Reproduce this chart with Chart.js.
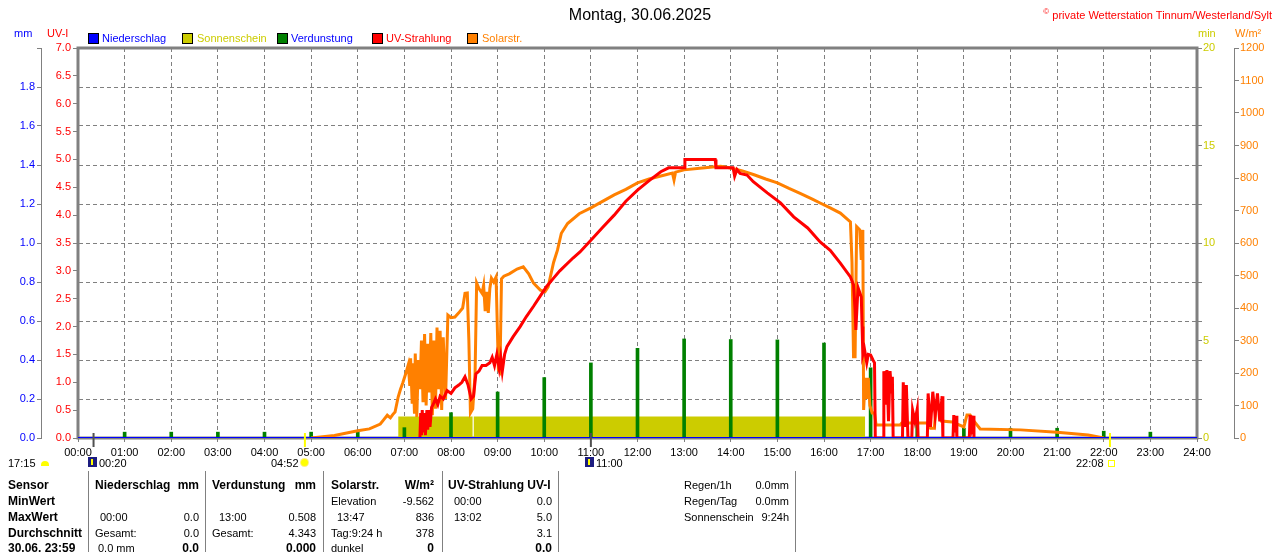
<!DOCTYPE html>
<html lang="de">
<head>
<meta charset="utf-8">
<title>Montag, 30.06.2025</title>
<script src="https://cdn.jsdelivr.net/npm/chart.js@4.4.1/dist/chart.umd.min.js"></script>
<style>
  html, body { margin: 0; padding: 0; background: #fff; }
  #wrap { position: relative; width: 1280px; height: 552px; overflow: hidden;
          font-family: "Liberation Sans", Arial, sans-serif; font-size: 11px; color: #000; }
  #wrap canvas { position: absolute; left: 0; top: 0; }
  .t { position: absolute; white-space: nowrap; line-height: 14px; }
  .b { font-weight: bold; font-size: 12px; }
  .box { position: absolute; top: 33px; width: 9px; height: 9px; border: 1px solid #000; }
  .sep { position: absolute; top: 471px; width: 1px; height: 81px; background: #808080; }
  .moon { position: absolute; width: 9px; height: 10px; background: #1c1c80; }
  .moon i { position: absolute; left: 3px; top: 2px; width: 2px; height: 6px; background: #ffff00; }
</style>
</head>
<body>
<div id="wrap">
  <canvas id="wetter" width="1280" height="552"></canvas>

  <!-- header -->
  <div class="t" style="left:0;width:1280px;top:6px;text-align:center;font-size:16px;line-height:18px;">Montag, 30.06.2025</div>
  <div class="t" style="right:8px;top:5px;color:#ff0000;"><sup style="font-size:8px;">©</sup> private Wetterstation Tinnum/Westerland/Sylt</div>

  <!-- axis units -->
  <div class="t" style="left:14px;top:26px;color:#0000ff;">mm</div>
  <div class="t" style="left:47px;top:26px;color:#ff0000;">UV-I</div>
  <div class="t" style="left:1198px;top:26px;color:#cccc00;">min</div>
  <div class="t" style="left:1235px;top:26px;color:#ff8000;">W/m²</div>

  <!-- legend -->
  <div class="box" style="left:88px;background:#0000ff;"></div>
  <div class="t" style="left:102px;top:31px;color:#0000ff;">Niederschlag</div>
  <div class="box" style="left:182px;background:#cccc00;"></div>
  <div class="t" style="left:197px;top:31px;color:#cccc00;">Sonnenschein</div>
  <div class="box" style="left:277px;background:#008000;"></div>
  <div class="t" style="left:291px;top:31px;color:#0000ff;">Verdunstung</div>
  <div class="box" style="left:372px;background:#ff0000;"></div>
  <div class="t" style="left:386px;top:31px;color:#ff0000;">UV-Strahlung</div>
  <div class="box" style="left:467px;background:#ff8000;"></div>
  <div class="t" style="left:482px;top:31px;color:#ff8000;">Solarstr.</div>

  <!-- sun / moon row -->
  <div class="t" style="left:8px;top:456px;">17:15</div>
  <div style="position:absolute;left:41px;top:461px;width:8px;height:5px;border-radius:4px 4px 0 0;background:#ffff00;"></div>
  <div class="moon" style="left:88px;top:457px;"><i></i></div>
  <div class="t" style="left:99px;top:456px;">00:20</div>
  <div class="t" style="left:271px;top:456px;">04:52</div>
  <div style="position:absolute;left:301px;top:459px;width:7px;height:7px;border-radius:50%;background:#ffff00;box-shadow:0 0 0 1px #ffee88;"></div>
  <div class="moon" style="left:585px;top:457px;"><i></i></div>
  <div class="t" style="left:596px;top:456px;">11:00</div>
  <div class="t" style="left:1076px;top:456px;">22:08</div>
  <div style="position:absolute;left:1108px;top:460px;width:5px;height:5px;border:1px solid #ffff00;"></div>

  <!-- table -->
  <div class="sep" style="left:88px;"></div>
  <div class="sep" style="left:205px;"></div>
  <div class="sep" style="left:323px;"></div>
  <div class="sep" style="left:442px;"></div>
  <div class="sep" style="left:558px;"></div>
  <div class="sep" style="left:795px;"></div>

  <div class="t b" style="left:8px;top:478px;">Sensor</div>
  <div class="t b" style="left:8px;top:494px;">MinWert</div>
  <div class="t b" style="left:8px;top:510px;">MaxWert</div>
  <div class="t b" style="left:8px;top:526px;">Durchschnitt</div>
  <div class="t b" style="left:8px;top:541px;">30.06. 23:59</div>

  <div class="t b" style="left:95px;top:478px;">Niederschlag</div>
  <div class="t b" style="right:1081px;top:478px;">mm</div>
  <div class="t" style="left:100px;top:510px;">00:00</div>
  <div class="t" style="right:1081px;top:510px;">0.0</div>
  <div class="t" style="left:95px;top:526px;">Gesamt:</div>
  <div class="t" style="right:1081px;top:526px;">0.0</div>
  <div class="t" style="left:98px;top:541px;">0.0 mm</div>
  <div class="t b" style="right:1081px;top:541px;">0.0</div>

  <div class="t b" style="left:212px;top:478px;">Verdunstung</div>
  <div class="t b" style="right:964px;top:478px;">mm</div>
  <div class="t" style="left:219px;top:510px;">13:00</div>
  <div class="t" style="right:964px;top:510px;">0.508</div>
  <div class="t" style="left:212px;top:526px;">Gesamt:</div>
  <div class="t" style="right:964px;top:526px;">4.343</div>
  <div class="t b" style="right:964px;top:541px;">0.000</div>

  <div class="t b" style="left:331px;top:478px;">Solarstr.</div>
  <div class="t b" style="right:846px;top:478px;">W/m²</div>
  <div class="t" style="left:331px;top:494px;">Elevation</div>
  <div class="t" style="right:846px;top:494px;">-9.562</div>
  <div class="t" style="left:337px;top:510px;">13:47</div>
  <div class="t" style="right:846px;top:510px;">836</div>
  <div class="t" style="left:331px;top:526px;">Tag:9:24 h</div>
  <div class="t" style="right:846px;top:526px;">378</div>
  <div class="t" style="left:331px;top:541px;">dunkel</div>
  <div class="t b" style="right:846px;top:541px;">0</div>

  <div class="t b" style="left:448px;top:478px;">UV-Strahlung UV-I</div>
  <div class="t" style="left:454px;top:494px;">00:00</div>
  <div class="t" style="right:728px;top:494px;">0.0</div>
  <div class="t" style="left:454px;top:510px;">13:02</div>
  <div class="t" style="right:728px;top:510px;">5.0</div>
  <div class="t" style="right:728px;top:526px;">3.1</div>
  <div class="t b" style="right:728px;top:541px;">0.0</div>

  <div class="t" style="left:684px;top:478px;">Regen/1h</div>
  <div class="t" style="right:491px;top:478px;">0.0mm</div>
  <div class="t" style="left:684px;top:494px;">Regen/Tag</div>
  <div class="t" style="right:491px;top:494px;">0.0mm</div>
  <div class="t" style="left:684px;top:510px;">Sonnenschein</div>
  <div class="t" style="right:491px;top:510px;">9:24h</div>
</div>

<script>
// Wetterstation Tagesgrafik 30.06.2025
const fontFamily = '"Liberation Sans", Arial, sans-serif';
const gridColor = '#808080';

// Niederschlag (mm)
const rainTimes = ['00:00', '24:00'];
const rainValues = [0, 0];

// Verdunstung (mm), stuendlich
const evapTimes = ['01:00', '02:00', '03:00', '04:00', '05:00', '06:00', '07:00', '08:00',
    '09:00', '10:00', '11:00', '12:00', '13:00', '14:00', '15:00', '16:00',
    '17:00', '18:00', '19:00', '20:00', '21:00', '22:00', '23:00'];
const evapValues = [0.03, 0.03, 0.03, 0.03, 0.03, 0.03, 0.053, 0.13,
    0.236, 0.31, 0.385, 0.46, 0.508, 0.505, 0.503, 0.487,
    0.36, 0.077, 0.05, 0.05, 0.05, 0.035, 0.03];

// Sonnenschein (min)
const sunStart = ['06:52', '08:29'];
const sunEnd = ['08:28', '16:53'];
const sunMinutes = [1.1, 1.1];

// UV-Strahlung (UV-I)
const uvTimes = ['07:20', '07:21', '07:22', '07:23', '07:24', '07:26', '07:27', '07:29', '07:30', '07:32',
    '07:33', '07:35', '07:37', '07:40', '07:43', '07:46', '07:50', '07:55', '08:00', '08:05',
    '08:10', '08:14', '08:18', '08:22', '08:26', '08:29', '08:32', '08:36', '08:40', '08:45',
    '08:50', '08:53', '08:56', '08:59', '09:02', '09:04', '09:06', '09:09', '09:12', '09:20',
    '09:29', '09:37', '09:46', '09:55', '10:03', '10:12', '10:20', '10:37', '10:46', '11:00',
    '11:15', '11:30', '11:45', '12:00', '12:15', '12:30', '12:40', '13:00', '13:01', '13:40',
    '13:41', '14:03', '14:05', '14:08', '14:12', '14:21', '14:29', '14:47', '15:04', '15:21',
    '15:39', '15:55', '16:08', '16:21', '16:34', '16:38', '16:40', '16:41', '16:43', '16:44',
    '16:48', '16:49', '16:50', '16:52', '16:55', '16:57', '17:00', '17:03', '17:05', '17:06',
    '17:16', '17:17', '17:19', '17:21', '17:23', '17:25', '17:27', '17:28', '17:29', '17:41',
    '17:42', '17:44', '17:46', '17:48', '17:53', '17:54', '17:57', '18:00', '18:01', '18:13',
    '18:14', '18:17', '18:20', '18:23', '18:26', '18:29', '18:32', '18:33', '18:46', '18:47',
    '18:49', '18:50', '18:51', '19:07', '19:08', '19:10', '19:12', '19:13'];
const uvValues = [0, 0.45, 0.05, 0.5, 0.1, 0.45, 0.05, 0.5, 0.15, 0.5,
    0.2, 0.55, 0.6, 0.7, 0.6, 0.75, 0.7, 0.85, 0.8, 0.9,
    0.95, 1.0, 1.1, 0.95, 0.7, 0.75, 1.15, 1.2, 1.3, 1.3,
    1.35, 1.45, 1.3, 1.5, 1.25, 1.45, 1.2, 1.5, 1.64, 1.82,
    2.0, 2.18, 2.36, 2.55, 2.72, 2.87, 3.0, 3.23, 3.34, 3.55,
    3.78, 4.0, 4.25, 4.45, 4.62, 4.78, 4.85, 4.85, 5.0, 5.0,
    4.85, 4.85, 4.7, 4.82, 4.75, 4.72, 4.6, 4.4, 4.22, 3.97,
    3.77, 3.52, 3.37, 3.14, 2.89, 2.75, 2.3, 1.94, 2.5, 2.69,
    2.53, 2.0, 1.5, 1.6, 1.35, 1.5, 1.49, 1.4, 1.35, 0,
    0, 1.2, 0.6, 1.22, 0.3, 1.2, 0.8, 1.1, 0, 0,
    1.0, 0.2, 0.95, 0, 0, 0.5, 0.3, 0.52, 0, 0,
    0.8, 0.2, 0.83, 0.4, 0.8, 0.3, 0.75, 0, 0, 0.41,
    0.1, 0.4, 0, 0, 0.41, 0.2, 0.4, 0];

// Solarstrahlung (W/m²)
const solarTimes = ['05:00', '05:30', '06:00', '06:15', '06:29', '06:33', '06:38', '06:42', '06:45', '06:48',
    '06:52', '06:55', '06:58', '07:02', '07:05', '07:07', '07:08', '07:10', '07:11', '07:13',
    '07:14', '07:16', '07:18', '07:20', '07:22', '07:24', '07:26', '07:28', '07:30', '07:32',
    '07:34', '07:36', '07:38', '07:40', '07:42', '07:44', '07:46', '07:48', '07:50', '07:53',
    '07:56', '08:00', '08:05', '08:10', '08:15', '08:18', '08:21', '08:23', '08:25', '08:28',
    '08:31', '08:33', '08:36', '08:40', '08:42', '08:44', '08:46', '08:48', '08:50', '08:52',
    '08:55', '08:58', '09:01', '09:03', '09:05', '09:08', '09:15', '09:25', '09:33', '09:40',
    '09:46', '09:55', '10:01', '10:05', '10:12', '10:17', '10:22', '10:30', '10:45', '11:00',
    '11:15', '11:30', '11:45', '12:00', '12:15', '12:30', '12:45', '12:47', '12:49', '13:00',
    '13:20', '13:47', '14:00', '14:15', '14:30', '14:45', '15:00', '15:15', '15:30', '15:45',
    '15:55', '16:08', '16:21', '16:34', '16:36', '16:38', '16:40', '16:42', '16:46', '16:48',
    '16:49', '16:50', '16:51', '16:53', '16:55', '16:57', '16:59', '17:02', '17:05', '17:07',
    '17:38', '17:40', '18:13', '18:17', '18:22', '18:24', '18:28', '18:31', '18:45', '19:00',
    '19:04', '19:08', '19:12', '19:21', '20:13', '21:00', '21:40', '22:00'];
const solarValues = [0, 8, 22, 28, 43, 55, 70, 62, 72, 80,
    126, 150, 170, 200, 225, 160, 245, 110, 230, 75,
    260, 65, 240, 150, 300, 110, 320, 100, 290, 140,
    323, 70, 300, 90, 340, 150, 330, 86, 310, 120,
    378, 370, 372, 385, 400, 445, 446, 300, 77, 90,
    200, 477, 460, 445, 470, 390, 450, 385, 460, 492,
    480, 495, 210, 203, 490, 498, 505, 520, 527, 505,
    477, 455, 450, 465, 540, 578, 630, 660, 690, 708,
    728, 748, 765, 785, 797, 806, 815, 794, 818, 825,
    830, 836, 831, 822, 810, 797, 785, 768, 752, 735,
    723, 708, 692, 665, 542, 250, 250, 650, 640, 548,
    640, 620, 86, 185, 120, 185, 100, 77, 77, 40,
    40, 46, 46, 30, 30, 92, 92, 52, 49, 34,
    71, 71, 55, 28, 25, 18, 9, 0];

// Sonnenaufgang/-untergang, Mond
const eventTimes = ['00:20', '04:52', '11:00', '22:08'];
const eventColors = ['#505050', '#ffff00', '#505050', '#ffff00'];

// Achsen
const minTicks = [0, 2, 4, 5, 6, 8, 10, 12, 14, 15, 16, 18, 20];
const minLabels = [0, 5, 10, 15, 20];

const toHours = (t) => {
    const [h, m] = t.split(':').map(Number);
    return h + m / 60;
};
const points = (times, values) => times.map((t, i) => ({ x: toHours(t), y: values[i] }));

const sunPoints = [];
sunStart.forEach((s, i) => {
    sunPoints.push({ x: toHours(s), y: sunMinutes[i] });
    sunPoints.push({ x: toHours(sunEnd[i]), y: sunMinutes[i] });
    sunPoints.push({ x: toHours(sunEnd[i]), y: null });
});

const tickFont = { family: fontFamily, size: 11 };

const frame = {
    id: 'frame',
    beforeDatasetsDraw(chart) {
        const { ctx, chartArea: { left, top, right, bottom } } = chart;
        ctx.save();
        ctx.strokeStyle = gridColor;
        ctx.lineWidth = 3;
        ctx.strokeRect(left, top, right - left, bottom - top);
        ctx.restore();
    },
    afterDraw(chart) {
        const { ctx, chartArea: { bottom }, scales: { x } } = chart;
        ctx.save();
        ctx.lineWidth = 2;
        eventTimes.forEach((t, i) => {
            const px = x.getPixelForValue(toHours(t));
            ctx.strokeStyle = eventColors[i];
            ctx.beginPath();
            ctx.moveTo(px, bottom - 5);
            ctx.lineTo(px, bottom + 9);
            ctx.stroke();
        });
        ctx.restore();
    }
};

new Chart('wetter', {
    type: 'line',
    data: {
        datasets: [{
            label: 'Niederschlag',
            data: points(rainTimes, rainValues),
            yAxisID: 'yMm',
            borderColor: '#0000ff',
            borderWidth: 2,
            pointRadius: 0,
            order: 0,
        }, {
            label: 'UV-Strahlung',
            data: points(uvTimes, uvValues),
            yAxisID: 'yUv',
            borderColor: '#ff0000',
            borderWidth: 3,
            pointRadius: 0,
            order: 1,
        }, {
            label: 'Solarstr.',
            data: points(solarTimes, solarValues),
            yAxisID: 'ySolar',
            borderColor: '#ff8000',
            borderWidth: 3,
            pointRadius: 0,
            order: 2,
        }, {
            type: 'bar',
            label: 'Verdunstung',
            data: points(evapTimes, evapValues),
            yAxisID: 'yMm',
            backgroundColor: '#008000',
            barThickness: 3,
            order: 3,
        }, {
            label: 'Sonnenschein',
            data: sunPoints,
            yAxisID: 'yMin',
            borderWidth: 0,
            borderColor: '#cccc00',
            backgroundColor: '#cccc00',
            fill: 'origin',
            spanGaps: false,
            pointRadius: 0,
            order: 4,
        }],
    },
    options: {
        responsive: false,
        animation: false,
        events: [],
        layout: { padding: { left: 0, right: 8, top: 48, bottom: 90 } },
        plugins: {
            legend: { display: false },
            tooltip: { enabled: false },
            title: { display: false },
        },
        scales: {
            x: {
                type: 'linear',
                min: 0,
                max: 24,
                offset: false,
                ticks: {
                    stepSize: 1,
                    autoSkip: false,
                    maxRotation: 0,
                    color: '#000',
                    font: tickFont,
                    padding: 4,
                    callback: (v) => String(v).padStart(2, '0') + ':00',
                },
                grid: { color: gridColor, drawTicks: true, tickLength: 4, offset: false },
                border: { display: false, dash: [4, 3] },
                afterFit: (s) => { s.height = 24; },
            },
            yUv: {
                position: 'left',
                weight: 0,
                min: 0,
                max: 7,
                ticks: {
                    stepSize: 0.5,
                    color: '#ff0000',
                    font: tickFont,
                    padding: 2,
                    callback: (v) => v.toFixed(1),
                },
                grid: { drawOnChartArea: false, tickLength: 5, color: gridColor },
                border: { display: false },
                afterFit: (s) => { s.width = 37; },
            },
            yMm: {
                position: 'left',
                weight: 1,
                min: 0,
                max: 2,
                ticks: {
                    stepSize: 0.2,
                    color: '#0000ff',
                    font: tickFont,
                    padding: 2,
                    callback: (v) => v > 1.9 ? '' : v.toFixed(1),
                },
                grid: { color: gridColor, tickLength: 4 },
                border: { display: true, color: gridColor, width: 1, dash: [4, 3] },
                afterFit: (s) => { s.width = 41; },
            },
            yMin: {
                position: 'right',
                weight: 0,
                min: 0,
                max: 20,
                afterBuildTicks: (s) => { s.ticks = minTicks.map((v) => ({ value: v })); },
                ticks: {
                    color: '#cccc00',
                    font: tickFont,
                    padding: 1,
                    callback: (v) => minLabels.includes(v) ? String(v) : '',
                },
                grid: { drawOnChartArea: false, tickLength: 5, color: gridColor },
                border: { display: false },
                afterFit: (s) => { s.width = 37; },
            },
            ySolar: {
                position: 'right',
                weight: 1,
                min: 0,
                max: 1200,
                ticks: {
                    stepSize: 100,
                    color: '#ff8000',
                    font: tickFont,
                    padding: 1,
                    callback: (v) => String(v),
                },
                grid: { drawOnChartArea: false, tickLength: 5, color: gridColor },
                border: { display: true, color: gridColor, width: 1 },
                afterFit: (s) => { s.width = 38; },
            },
        },
    },
    plugins: [frame],
});
</script>
</body>
</html>
